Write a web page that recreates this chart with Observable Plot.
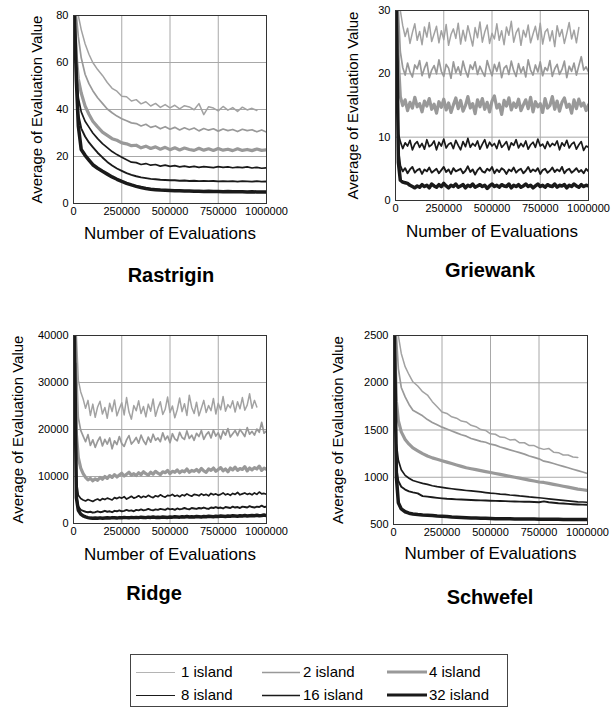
<!DOCTYPE html>
<html>
<head>
<meta charset="utf-8">
<script src="https://cdn.jsdelivr.net/npm/d3@7"></script>
<script src="https://cdn.jsdelivr.net/npm/@observablehq/plot@0.6"></script>
<style>
  html, body { margin: 0; padding: 0; background: #fff; }
  #page { position: relative; width: 616px; height: 708px; background: #fff; font-family: "Liberation Sans", Arial, Helvetica, sans-serif; color: #000; overflow: hidden; }
  .panel { position: absolute; }
  .title { position: absolute; font-weight: bold; font-size: 20px; transform: translate(-50%, -50%); white-space: nowrap; }
  #legend { position: absolute; left: 0; top: 0; }
</style>
</head>
<body>
<div id="page"></div>
<script>
// ---------- shared axis data ----------
// coarse sampling (Rastrigin, Schwefel)
const evals = [5000, 15000, 25000, 40000, 60000, 80000, 100000,
  125000, 150000, 175000, 200000, 225000, 250000, 275000, 300000,
  325000, 350000, 375000, 400000, 425000, 450000, 475000, 500000,
  525000, 550000, 575000, 600000, 625000, 650000, 675000, 700000,
  725000, 750000, 775000, 800000, 825000, 850000, 875000, 900000,
  925000, 950000, 975000, 1000000];
// dense sampling (Griewank, Ridge)
const evalsDense = [5000, 15000, 25000,
  37500, 50000, 62500, 75000, 87500, 100000, 112500, 125000,
  137500, 150000, 162500, 175000, 187500, 200000, 212500, 225000,
  237500, 250000, 262500, 275000, 287500, 300000, 312500, 325000,
  337500, 350000, 362500, 375000, 387500, 400000, 412500, 425000,
  437500, 450000, 462500, 475000, 487500, 500000, 512500, 525000,
  537500, 550000, 562500, 575000, 587500, 600000, 612500, 625000,
  637500, 650000, 662500, 675000, 687500, 700000, 712500, 725000,
  737500, 750000, 762500, 775000, 787500, 800000, 812500, 825000,
  837500, 850000, 862500, 875000, 887500, 900000, 912500, 925000,
  937500, 950000, 962500, 975000, 987500, 1000000];
const xTicks = [0, 250000, 500000, 750000, 1000000];
const seriesNames = ["1 island", "2 island", "4 island", "8 island", "16 island", "32 island"];
const xLabel = "Number of Evaluations";
const yLabel = "Average of Evaluation Value";

// ---------- Rastrigin ----------
const rastriginTicks = [0, 20, 40, 60, 80];
const rastrigin1 = [null, null, 80, 74, 68, 63.5, 60,
  57, 54.5, 51.5, 49, 47.8, 45.6, 45.4, 43.6,
  44.2, 42.4, 43.3, 41.5, 42.6, 40.9, 42.1, 40.7,
  41.8, 40.3, 41.6, 41.1, 39.9, 42.5, 37.8, 41.2,
  40.6, 39.4, 41.3, 39.7, 40.8, 39.2, 41.0, 39.8,
  40.5, 39.6, null, null];
const rastrigin2 = [null, 80, 71, 62, 55, 51, 48,
  45, 42.6, 40.2, 38.6, 37.2, 36.1, 35.2, 34.3,
  34.0, 33.0, 33.7, 32.4, 33.0, 31.8, 32.7, 31.6,
  32.4, 31.3, 32.2, 31.4, 32.1, 30.9, 31.9, 31.2,
  31.8, 30.8, 31.7, 31.0, 31.5, 30.6, 31.6, 31.0,
  31.4, 30.5, 31.3, 30.4];
const rastrigin4 = [80, 62, 53, 47, 41.5, 38, 35,
  32.6, 30.4, 29.0, 27.6, 26.9, 25.8, 25.4, 24.6,
  24.8, 23.7, 24.4, 23.4, 24.1, 23.1, 23.9, 22.9,
  23.7, 22.8, 23.6, 23.0, 22.6, 23.5, 22.7, 23.3,
  22.6, 23.4, 22.7, 23.1, 22.5, 23.3, 22.6, 23.0,
  22.5, 23.2, 22.6, 22.8];
const rastrigin8 = [80, 58, 45, 39, 35, 32.5, 30,
  27.6, 25.5, 23.8, 22.1, 20.8, 19.7, 18.6, 17.6,
  17.4, 16.6, 17.0, 16.3, 16.6, 15.9, 16.3, 15.8,
  16.1, 15.6, 15.9, 15.5, 15.8, 15.4, 15.7, 15.5,
  15.3, 15.7, 15.4, 15.6, 15.2, 15.5, 15.3, 15.6,
  15.1, 15.4, 15.0, 15.2];
const rastrigin16 = [80, 55, 38, 32, 28.5, 26, 24,
  21.6, 19.6, 17.7, 16.2, 14.9, 13.9, 12.9, 12.2,
  11.6, 11.1, 10.8, 10.5, 10.3, 10.1, 10.0, 9.9,
  9.9, 9.7, 9.8, 9.6, 9.7, 9.5, 9.6, 9.5,
  9.6, 9.4, 9.5, 9.4, 9.5, 9.3, 9.5, 9.4,
  9.3, 9.5, 9.3, 9.4];
const rastrigin32 = [80, 52, 33, 23, 20.5, 18.5, 16.5,
  15.0, 13.7, 12.5, 11.3, 10.3, 9.4, 8.6, 7.9,
  7.3, 6.8, 6.4, 6.1, 5.9, 5.7, 5.6, 5.5,
  5.4, 5.4, 5.3, 5.3, 5.2, 5.2, 5.1, 5.2,
  5.1, 5.1, 5.0, 5.1, 5.0, 5.0, 5.0, 4.9,
  5.0, 4.9, 4.9, 4.9];

// ---------- Griewank (dense) ----------
const griewankTicks = [0, 10, 20, 30];
const griewank1 = [null, null, 30,
  27.6, 25.9, 27.2, 24.8, 26.5, 27.9, 25.3, 26.7,
  24.6, 27.4, 25.8, 28.1, 25.1, 26.3, 27.5, 24.9,
  26.8, 25.4, 27.8, 24.5, 26.2, 27.1, 25.6, 28.0,
  24.7, 26.9, 25.2, 27.6, 26.0, 24.4, 27.3, 25.7,
  28.2, 25.0, 26.6, 27.7, 24.8, 26.4, 25.5, 27.9,
  25.3, 26.8, 24.6, 27.4, 26.1, 28.3, 25.0, 26.5,
  27.2, 24.5, 26.9, 25.8, 27.7, 24.9, 26.3, 27.5,
  25.4, 28.0, 24.7, 26.6, 27.1, 25.2, 26.8, 24.3,
  27.6, 25.9, 27.0, 24.8, 26.4, 28.1, 25.5, 26.9,
  24.9, 27.3, null, null, null, null];
const griewank2 = [null, 30, 23.5,
  21.0, 19.8, 21.7, 20.3, 19.5, 21.4, 20.8, 22.1,
  19.7, 20.9, 21.8, 19.4, 20.6, 21.3, 20.0, 22.2,
  20.4, 19.6, 21.5, 20.9, 19.3, 21.9, 20.2, 21.1,
  19.8, 22.0, 20.5, 19.5, 21.4, 20.7, 21.9, 19.9,
  21.2, 20.3, 19.6, 22.1, 20.8, 19.7, 21.5, 20.4,
  21.8, 19.4, 20.9, 21.3, 19.9, 22.0, 20.5, 19.6,
  21.6, 20.2, 21.1, 19.5, 22.2, 20.6, 19.8, 21.4,
  20.3, 21.9, 19.7, 21.0, 20.5, 22.1, 19.6, 20.8,
  21.5, 19.9, 20.7, 22.0, 19.4, 21.2, 20.4, 21.7,
  19.8, 21.3, 22.7, 20.6, 21.1, 20.3];
const griewank4 = [30, 22, 16.4,
  15.0, 15.9, 14.2, 15.5, 14.6, 16.3, 14.8, 15.3,
  14.0, 15.7, 14.9, 16.1, 14.4, 15.2, 13.8, 15.6,
  14.7, 16.0, 14.3, 15.4, 13.9, 15.1, 16.2, 14.5,
  15.8, 14.1, 15.0, 16.4, 14.6, 15.3, 13.7, 15.9,
  14.8, 16.1, 14.4, 15.5, 14.0, 15.7, 16.5, 14.6,
  15.2, 13.6, 15.8, 14.9, 16.2, 14.3, 15.4, 14.7,
  16.0, 14.2, 15.1, 15.9, 14.5, 16.3, 14.0, 15.6,
  14.8, 15.3, 13.9, 16.1, 14.6, 15.0, 16.4, 14.4,
  15.7, 14.1, 15.5, 16.2, 14.7, 15.2, 13.8, 15.9,
  14.5, 16.0, 14.9, 15.4, 14.2, 15.1];
const griewank8 = [30, 10.5, 9.3,
  8.2, 9.1, 8.6, 9.5, 8.0, 8.9, 9.3, 8.4,
  9.0, 8.1, 9.6, 8.5, 8.8, 9.4, 8.0, 9.2,
  8.6, 9.7, 8.3, 8.9, 9.1, 8.2, 9.5, 8.7,
  8.0, 9.3, 8.5, 9.8, 8.4, 9.0, 8.6, 9.4,
  8.1, 8.9, 9.6, 8.3, 9.2, 8.6, 9.0, 8.2,
  9.5, 8.4, 8.8, 9.3, 8.0, 9.1, 8.7, 9.6,
  8.3, 9.0, 8.5, 9.4, 8.1, 8.8, 9.2, 8.4,
  9.7, 8.6, 8.9, 8.2, 9.3, 8.5, 9.0, 8.7,
  9.4, 8.0, 9.1, 8.6, 9.5, 8.3, 8.9, 9.2,
  8.1, 8.8, 9.3, 7.9, 8.6, 8.4];
const griewank16 = [30, 8, 5.5,
  4.6, 5.1, 4.3, 4.9, 5.3, 4.4, 4.8, 5.0,
  4.2, 4.9, 4.6, 5.2, 4.4, 4.7, 5.0, 4.3,
  4.8, 5.3, 4.5, 4.9, 4.2, 5.1, 4.6, 4.8,
  5.0, 4.3, 4.7, 5.4, 4.5, 4.9, 4.1, 4.8,
  5.2, 4.6, 4.4, 5.0, 4.7, 5.3, 4.3, 4.9,
  4.5, 5.1, 4.8, 4.2, 4.9, 4.6, 5.2, 4.4,
  4.8, 5.0, 4.3, 4.7, 5.3, 4.5, 4.9, 4.6,
  5.1, 4.2, 4.8, 5.0, 4.4, 4.7, 5.2, 4.5,
  4.9, 4.6, 5.3, 4.3, 4.8, 5.0, 4.4, 4.7,
  5.1, 4.5, 4.8, 4.3, 5.0, 4.6];
const griewank32 = [30, 6, 3.2,
  2.9, 2.8, 2.7, 2.4, 2.2, 2.0, 2.3, 2.1,
  2.5, 2.2, 2.4, 2.0, 2.6, 2.3, 2.1, 2.5,
  2.2, 2.7, 2.3, 2.0, 2.4, 2.2, 2.6, 2.1,
  2.3, 2.5, 2.0, 2.4, 2.2, 2.6, 2.1, 2.3,
  2.5, 2.2, 2.4, 1.9, 2.3, 2.6, 2.2, 2.4,
  2.1, 2.5, 2.3, 2.2, 2.6, 2.0, 2.4, 2.2,
  2.5, 2.1, 2.3, 2.6, 2.2, 2.4, 2.0, 2.3,
  2.6, 2.2, 2.4, 2.1, 2.5, 2.3, 2.2, 2.6,
  2.1, 2.4, 2.3, 2.5, 2.0, 2.4, 2.2, 2.6,
  2.3, 2.1, 2.5, 2.2, 2.4, 2.3];

// ---------- Ridge (dense) ----------
const ridgeTicks = [0, 10000, 20000, 30000, 40000];
const ridge1 = [null, 40000, 30500,
  28000, 26500, 24500, 26200, 23000, 25400, 22600, 24800,
  26000, 23300, 24700, 22400, 25600, 23800, 26300, 22900,
  24400, 25700, 23100, 26800, 23700, 22200, 25100, 24000,
  26100, 23400, 24900, 22700, 25400, 23900, 26500, 22800,
  24600, 25900, 23200, 24300, 26900, 23600, 25000, 22500,
  24200, 26700, 23800, 25500, 23000, 27300, 24700, 23400,
  25800, 22900, 24500, 26200, 23600, 25100, 24000, 26600,
  23300, 25600, 24200, 27000, 23900, 25300, 24600, 26100,
  23700, 25900, 24400, 26800, 24100, 25200, 27600, 24500,
  26200, 24800, null, null, null, null];
const ridge2 = [null, 34000, 22500,
  19800, 18600, 17400, 18900, 16600, 17800, 16200, 17500,
  18400, 16500, 17900, 16900, 18200, 15900, 17600, 16800,
  18500, 17000, 16400, 17800, 18700, 16900, 17500, 18300,
  17100, 18800, 17600, 16800, 18400, 17300, 19000, 17700,
  18200, 17400, 19300, 17800, 18600, 17200, 19100, 18000,
  17600, 19400, 18300, 17900, 19700, 18100, 18800, 17700,
  19200, 18500, 19800, 17900, 18900, 19500, 18200, 19900,
  18600, 19300, 18000, 19700, 18800, 20200, 18400, 19100,
  19800, 18700, 20000, 19300, 18500, 20400, 19000, 19600,
  18800, 20100, 19400, 21500, 19200, 19700];
const ridge4 = [40000, 19000, 14000,
  11800, 10600, 9800, 9300, 9600, 9100, 9500, 9200,
  9800, 9400, 10000, 9600, 10200, 9800, 10400, 9900,
  10300, 10700, 10100, 10500, 10900, 10300, 10600, 10200,
  10800, 10400, 11000, 10600, 10300, 10900, 10500, 11100,
  10700, 10400, 11000, 10800, 11300, 10600, 11100, 10900,
  11400, 10800, 11200, 11000, 11600, 10900, 11300, 11100,
  11500, 11000, 11700, 11200, 10900, 11600, 11300, 11800,
  11100, 11500, 11900, 11200, 11600, 11000, 11800, 11400,
  12000, 11300, 11700, 11500, 12100, 11200, 11800, 11400,
  11900, 11600, 12200, 11300, 11800, 11500];
const ridge8 = [40000, 9000, 6000,
  5300, 5000, 4800, 5100, 4900, 4700, 5000, 5200,
  4900, 5300, 5100, 5400, 5200, 5000, 5500, 5300,
  5600, 5400, 5700, 5200, 5500, 5800, 5400, 5600,
  5900, 5500, 5800, 5600, 6000, 5700, 5500, 5900,
  5700, 6100, 5800, 5600, 6000, 5900, 6200, 5800,
  6000, 5700, 6100, 5900, 6300, 6000, 5800, 6200,
  6100, 5900, 6300, 6000, 6200, 5900, 6400, 6100,
  6300, 6000, 6200, 6500, 6100, 6300, 6000, 6400,
  6200, 6600, 6100, 6300, 6500, 6200, 6400, 6100,
  6500, 6200, 6700, 6300, 6400, 6200];
const ridge16 = [40000, 6000, 3600,
  2900, 2700, 2500, 2400, 2500, 2300, 2400, 2600,
  2400, 2500, 2700, 2500, 2600, 2400, 2700, 2600,
  2800, 2600, 2700, 2900, 2700, 2800, 2600, 2900,
  2800, 3000, 2800, 2900, 3100, 2900, 2800, 3000,
  2900, 3100, 3000, 2900, 3200, 3000, 3100, 2900,
  3200, 3000, 3100, 3300, 3100, 3000, 3300, 3200,
  3100, 3300, 3200, 3400, 3200, 3100, 3400, 3300,
  3500, 3300, 3400, 3200, 3500, 3400, 3300, 3600,
  3400, 3500, 3300, 3600, 3500, 3400, 3700, 3500,
  3400, 3600, 3500, 3800, 3500, 3600];
const ridge32 = [40000, 5500, 2800,
  2000, 1600, 1400, 1250, 1150, 1100, 1150, 1100,
  1200, 1100, 1150, 1200, 1150, 1250, 1200, 1150,
  1250, 1200, 1300, 1250, 1200, 1300, 1250, 1300,
  1250, 1350, 1300, 1250, 1350, 1300, 1400, 1300,
  1350, 1300, 1400, 1350, 1300, 1400, 1350, 1450,
  1400, 1350, 1450, 1400, 1500, 1400, 1450, 1400,
  1500, 1450, 1400, 1500, 1450, 1550, 1500, 1450,
  1550, 1500, 1600, 1550, 1500, 1600, 1550, 1650,
  1600, 1550, 1650, 1600, 1700, 1600, 1650, 1700,
  1650, 1750, 1650, 1700, 1800, 1700];

// ---------- Schwefel ----------
const schwefelTicks = [500, 1000, 1500, 2000, 2500];
const schwefel1 = [null, null, 2500, 2310, 2170, 2085, 2010,
  1965, 1905, 1870, 1800, 1745, 1690, 1675, 1640,
  1625, 1595, 1585, 1550, 1535, 1505, 1495, 1460,
  1455, 1425, 1420, 1395, 1400, 1365, 1365, 1335,
  1335, 1310, 1295, 1305, 1265, 1260, 1235, 1235,
  1215, 1210, null, null];
const schwefel2 = [null, 2500, 2150, 1950, 1850, 1770, 1710,
  1680, 1650, 1610, 1580, 1555, 1530, 1510, 1490,
  1470, 1450, 1435, 1410, 1395, 1380, 1370, 1350,
  1340, 1320, 1305, 1290, 1275, 1260, 1245, 1225,
  1210, 1195, 1170, 1160, 1145, 1130, 1115, 1100,
  1085, 1070, 1055, 1040];
const schwefel4 = [2500, 1800, 1600, 1480, 1400, 1350, 1310,
  1280, 1250, 1225, 1205, 1190, 1175, 1160, 1145,
  1130, 1115, 1100, 1090, 1080, 1070, 1060, 1050,
  1040, 1030, 1020, 1010, 1000, 990, 980, 970,
  960, 950, 945, 935, 925, 915, 905, 895,
  885, 875, 868, 860];
const schwefel8 = [2500, 1350, 1180, 1080, 1020, 990, 965,
  950, 935, 925, 910, 900, 893, 885, 878,
  872, 866, 860, 855, 850, 845, 838, 832,
  828, 822, 818, 812, 808, 802, 798, 792,
  788, 783, 778, 772, 766, 760, 755, 750,
  745, 740, 738, 735];
const schwefel16 = [2500, 1100, 960, 900, 870, 850, 840,
  830, 800, 795, 788, 782, 777, 772, 770,
  766, 764, 762, 760, 757, 755, 754, 752,
  750, 748, 747, 745, 744, 742, 740, 740,
  738, 736, 745, 735, 730, 725, 722, 718,
  715, 712, 710, 708];
const schwefel32 = [2500, 1000, 730, 665, 635, 620, 612,
  605, 600, 598, 595, 590, 588, 585, 580,
  578, 575, 572, 570, 568, 566, 565, 563,
  562, 561, 560, 560, 559, 558, 558, 557,
  557, 556, 556, 555, 555, 555, 554, 554,
  553, 553, 553, 552];

// ---------- styles ----------
const seriesStroke = ["#a2a2a2", "#999999", "#999999", "#1a1a1a", "#1a1a1a", "#1a1a1a"];
const seriesWidth = [1.5, 1.7, 3.2, 1.7, 1.9, 3.5];
const legendStroke = ["#b4b4b4", "#999999", "#999999", "#1a1a1a", "#1a1a1a", "#1a1a1a"];
const legendWidth = [1, 1.3, 3, 1.2, 1.6, 3];
const FONT = "'Liberation Sans', Arial, Helvetica, sans-serif";

const page = document.getElementById("page");

function panel(cfg) {
  const lines = cfg.series.map((vals, i) =>
    Plot.line(cfg.xs.map((x, j) => ({x, y: vals[j]})), {
      x: "x", y: "y", stroke: seriesStroke[i], strokeWidth: seriesWidth[i],
      strokeLinejoin: "round", clip: true
    }));
  const chart = Plot.plot({
    width: cfg.w, height: cfg.h,
    marginLeft: cfg.ml, marginRight: cfg.mr, marginTop: cfg.mt, marginBottom: cfg.mb,
    style: {fontFamily: FONT, fontSize: "11px", background: "transparent", color: "#000", overflow: "visible"},
    x: {domain: [0, 1000000]},
    y: {domain: cfg.domain},
    marks: [
      Plot.gridX(xTicks, {stroke: "#a8a8a8", strokeOpacity: 1}),
      Plot.gridY(cfg.ticks, {stroke: "#a8a8a8", strokeOpacity: 1}),
      ...lines,
      Plot.frame({stroke: "#333", strokeWidth: 1}),
      Plot.axisX(xTicks, {tickSize: 0, tickPadding: 4, label: null, tickFormat: d => String(d), fontSize: 11}),
      Plot.axisY(cfg.ticks, {tickSize: 0, tickPadding: 5, label: null, tickFormat: d => String(d), fontSize: 11}),
      Plot.text([xLabel], {frameAnchor: "bottom", lineAnchor: "middle", dy: cfg.xdy, fontSize: 17}),
      Plot.text([yLabel], {frameAnchor: "left", lineAnchor: "middle", textAnchor: "middle", rotate: -90, dx: cfg.ydx, fontSize: 15})
    ]
  });
  chart.classList.add("panel");
  chart.style.left = cfg.left + "px";
  chart.style.top = cfg.top + "px";
  page.appendChild(chart);
  const t = document.createElement("div");
  t.className = "title";
  t.textContent = cfg.title;
  t.style.left = cfg.tx + "px";
  t.style.top = cfg.ty + "px";
  page.appendChild(t);
}

panel({title: "Rastrigin", xs: evals, series: [rastrigin1, rastrigin2, rastrigin4, rastrigin8, rastrigin16, rastrigin32],
  domain: [0, 80], ticks: rastriginTicks, left: 0, top: 0, w: 300, h: 250,
  ml: 73, mr: 34, mt: 15, mb: 47, xdy: 30, ydx: -36, tx: 171, ty: 275});
panel({title: "Griewank", xs: evalsDense, series: [griewank1, griewank2, griewank4, griewank8, griewank16, griewank32],
  domain: [0, 30], ticks: griewankTicks, left: 300, top: 0, w: 316, h: 250,
  ml: 95, mr: 28, mt: 10, mb: 50, xdy: 31, ydx: -42, tx: 490, ty: 270});
panel({title: "Ridge", xs: evalsDense, series: [ridge1, ridge2, ridge4, ridge8, ridge16, ridge32],
  domain: [0, 40000], ticks: ridgeTicks, left: 0, top: 300, w: 300, h: 270,
  ml: 73, mr: 34, mt: 35, mb: 47, xdy: 31, ydx: -55, tx: 154, ty: 593});
panel({title: "Schwefel", xs: evals, series: [schwefel1, schwefel2, schwefel4, schwefel8, schwefel16, schwefel32],
  domain: [500, 2500], ticks: schwefelTicks, left: 300, top: 300, w: 316, h: 270,
  ml: 93, mr: 29, mt: 35, mb: 46, xdy: 29, ydx: -55, tx: 490, ty: 597});

// ---------- legend ----------
const svg = d3.select(page).append("svg").attr("id", "legend").attr("width", 616).attr("height", 708)
  .style("pointer-events", "none");
svg.append("rect").attr("x", 130.5).attr("y", 654.5).attr("width", 377).attr("height", 52)
  .attr("fill", "none").attr("stroke", "#444").attr("stroke-width", 1);
const colLine = [[136, 175], [262, 300], [387, 427]];
const colText = [181, 303, 429];
const rowY = [672, 695];
seriesNames.forEach((name, i) => {
  const r = Math.floor(i / 3), c = i % 3;
  const ly = rowY[r] + (legendWidth[i] < 2 ? 0.5 : 0);
  svg.append("line").attr("x1", colLine[c][0]).attr("x2", colLine[c][1])
    .attr("y1", ly).attr("y2", ly)
    .attr("stroke", legendStroke[i]).attr("stroke-width", legendWidth[i]);
  svg.append("text").attr("x", colText[c]).attr("y", rowY[r]).attr("dy", "0.35em")
    .attr("font-family", FONT).attr("font-size", 15).attr("fill", "#000").text(name);
});
</script>
</body>
</html>
